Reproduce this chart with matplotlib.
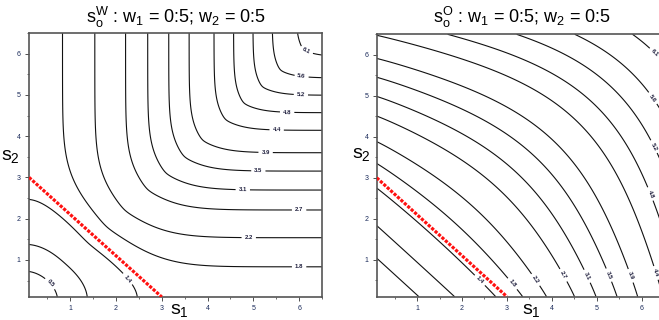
import numpy as np
import matplotlib
matplotlib.use("Agg")
import matplotlib.pyplot as plt
from matplotlib.ticker import MultipleLocator

plt.rcParams["font.family"] = ["Liberation Sans", "DejaVu Sans"]
plt.rcParams["mathtext.fontset"] = "custom"
plt.rcParams["mathtext.rm"] = "Liberation Sans"
plt.rcParams["mathtext.it"] = "Liberation Sans"

# ---------------------------------------------------------
# values
# ---------------------------------------------------------
levels = [0.5, 0.9, 1.4, 1.8, 2.2, 2.7, 3.1, 3.5, 3.9, 4.4, 4.8, 5.2, 5.6, 6.1]

# labelled contours, left panel (s_o^W) and where the label sits
lab_lev_w = [0.5, 1.4, 1.8, 2.2, 2.7, 3.1, 3.5, 3.9, 4.4, 4.8, 5.2, 5.6, 6.1]
lab_x_w = [0.59, 2.16, 6.00, 4.90, 6.00, 4.77, 5.11, 5.27, 5.51, 5.74, 6.04, 6.06, 6.15]
lab_y_w = [0.45, 0.45, 0.80, 1.60, 2.19, 2.72, 3.21, 3.69, 4.17, 4.62, 5.05, 5.50, 6.05]

# labelled contours, right panel (s_o^O)
lab_lev_o = [1.4, 1.8, 2.2, 2.7, 3.1, 3.5, 3.9, 4.4, 4.8, 5.2, 5.6, 6.1]
lab_x_o = [2.36, 3.14, 3.61, 4.17, 4.69, 5.21, 5.73, 6.20, 6.18, 6.20, 6.18, 6.14]
lab_y_o = [0.46, 0.43, 0.49, 0.57, 0.55, 0.60, 0.60, 0.64, 2.60, 3.72, 4.89, 5.87]

# red budget line s1 + s2 = 3
line_s1 = [0.1, 3.0]
line_s2 = [3.0, 0.1]

ticks = [1, 2, 3, 4, 5, 6]
lim = (0.1, 6.5)

# surface shape, fitted to the contour positions
W_CAP0, W_CAP1, W_SCALE, W_ROUND = 2.52, 0.12, 6.5, 1.0
O_SLOPE, O_START, O_SHARP, O_SHIFT = 0.23, 2.8, 3.0, 0.07


def score_w(s1, s2):
    lo = np.minimum(s1, s2)
    d = np.abs(s1 ** 2 - s2 ** 2)
    cap = W_CAP0 - W_CAP1 * lo
    k = cap / W_SCALE - 0.5
    # keeps the level lines smooth where they cross the diagonal
    g = -d / 2 + cap * np.tanh(d / W_SCALE) - k * W_ROUND * (1 - np.exp(-d / W_ROUND))
    return np.sqrt((s1 ** 2 + s2 ** 2) / 2 + g)


def score_o(s1, s2):
    z = s1 + s2 - O_START
    p = 1 + O_SLOPE * np.log1p(np.exp(O_SHARP * z)) / O_SHARP
    return ((s1 ** p + s2 ** p) / 2) ** (1 / p) - O_SHIFT


grid = np.linspace(lim[0], lim[1], 400)
S1, S2 = np.meshgrid(grid, grid)

fig = plt.figure(figsize=(6.59, 3.2), dpi=100)
ax_w = fig.add_axes([29 / 659, 23 / 320, 293 / 659, 264 / 320])
ax_o = fig.add_axes([376.7 / 659, 23.3 / 320, 287.4 / 659, 262.4 / 320])

panels = [
    (ax_w, score_w, lab_lev_w, lab_x_w, lab_y_w, "W", 0.267),
    (ax_o, score_o, lab_lev_o, lab_x_o, lab_y_o, "O", 0.792),
]

for ax, func, lab_lev, lab_x, lab_y, tag, xc in panels:
    Z = func(S1, S2)
    rest = [v for v in levels if v not in lab_lev]
    ax.contour(S1, S2, Z, levels=rest, colors="#111111", linewidths=0.8)
    cs = ax.contour(S1, S2, Z, levels=lab_lev, colors="#111111", linewidths=0.8)
    ax.clabel(cs, manual=list(zip(lab_x, lab_y)),
              fmt=lambda v: f"{v:.1f}", fontsize=4.3, colors="#1b1b3a",
              inline=True, inline_spacing=3)
    for t in cs.labelTexts:
        t.set_fontweight("bold")

    ax.plot(line_s1, line_s2, color="#ff1010", lw=2.3,
            linestyle=(0, (1, 0.45)), zorder=3)

    ax.set_xlim(*lim)
    ax.set_ylim(*lim)
    ax.set_xticks(ticks)
    ax.set_yticks(ticks)
    ax.xaxis.set_minor_locator(MultipleLocator(0.5))
    ax.yaxis.set_minor_locator(MultipleLocator(0.5))
    ax.tick_params(which="major", direction="out", length=3, width=0.6,
                   labelsize=5, labelcolor="#1a2a5a", pad=3, colors="#333333")
    ax.tick_params(which="minor", direction="out", length=1.6, width=0.5,
                   colors="#333333")
    for sp in ax.spines.values():
        sp.set_color("#555555")
        sp.set_linewidth(1.2)

    fig.text(xc, 0.947,
             r"$\mathregular{s_o^{%s}}$ : $\mathregular{w_1}$ = 0:5; "
             r"$\mathregular{w_2}$ = 0:5" % tag,
             ha="center", va="center", fontsize=13)

fig.text(0.272, 0.03, r"$\mathregular{s_1}$", ha="center", va="center", fontsize=14)
fig.text(0.016, 0.51, r"$\mathregular{s_2}$", ha="center", va="center", fontsize=14)
fig.text(0.806, 0.03, r"$\mathregular{s_1}$", ha="center", va="center", fontsize=14)
fig.text(0.549, 0.516, r"$\mathregular{s_2}$", ha="center", va="center", fontsize=14)

fig.savefig("out.png", dpi=100)
